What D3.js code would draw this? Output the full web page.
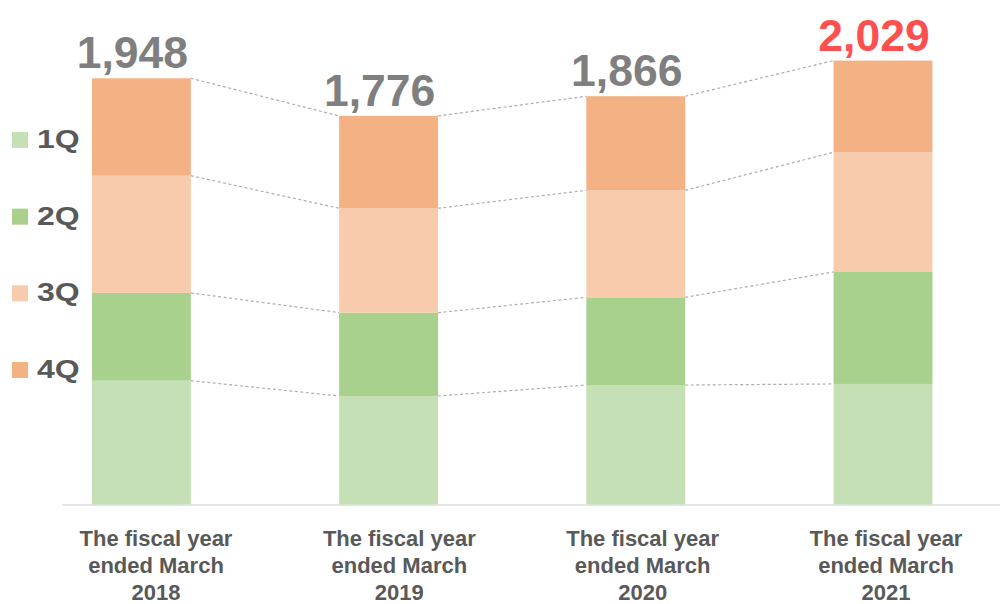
<!DOCTYPE html>
<html>
<head>
<meta charset="utf-8">
<script src="https://cdn.jsdelivr.net/npm/d3@7"></script>
<style>
  html, body { margin: 0; padding: 0; background: #ffffff; }
  svg { display: block; font-family: "Liberation Sans", Arial, sans-serif; }
</style>
</head>
<body>
<svg id="chart" width="1000" height="604"></svg>
<script>
// Fiscal years (ended March) and quarterly amounts stacked per year
const years = ["2018", "2019", "2020", "2021"];
const quarters = ["1Q", "2Q", "3Q", "4Q"];
const q1 = [566, 496, 546, 551];
const q2 = [401, 381, 401, 512];
const q3 = [536, 477, 489, 547];
const q4 = [445, 422, 430, 419];
const totals = [1948, 1776, 1866, 2029];
const totalLabels = ["1,948", "1,776", "1,866", "2,029"];
const quarterColors = ["#c5e0b4", "#a9d18e", "#f8cbad", "#f4b183"];

const svg = d3.select("#chart");

const rows = years.map((y, i) => ({ year: y, "1Q": q1[i], "2Q": q2[i], "3Q": q3[i], "4Q": q4[i] }));
const stack = d3.stack().keys(quarters)(rows);

const x = d3.scaleBand()
  .domain(years)
  .range([17.8, 1006.6])
  .paddingInner(0.6)
  .paddingOuter(0.3);

const y = d3.scaleLinear()
  .domain([0, 2200])
  .range([504.5, 23.16]);

// baseline
svg.append("line")
  .attr("x1", 62).attr("x2", 1000)
  .attr("y1", y(0) + 0.5).attr("y2", y(0) + 0.5)
  .attr("stroke", "#dedede")
  .attr("stroke-width", 1.5);

// stacked bars
svg.append("g")
  .selectAll("g")
  .data(stack)
  .join("g")
  .attr("fill", (d, i) => quarterColors[i])
  .selectAll("rect")
  .data(d => d)
  .join("rect")
  .attr("x", d => x(d.data.year))
  .attr("width", x.bandwidth())
  .attr("y", d => y(d[1]))
  .attr("height", d => y(d[0]) - y(d[1]));

// dashed connectors between matching segment tops of neighbouring bars
const connectors = svg.append("g")
  .attr("stroke", "#aeaeae")
  .attr("stroke-width", 1.2)
  .attr("stroke-dasharray", "3,2.5")
  .attr("fill", "none");

stack.forEach(layer => {
  for (let i = 0; i < layer.length - 1; i++) {
    connectors.append("line")
      .attr("x1", x(years[i]) + x.bandwidth())
      .attr("y1", y(layer[i][1]))
      .attr("x2", x(years[i + 1]))
      .attr("y2", y(layer[i + 1][1]));
  }
});

// totals above each bar
svg.append("g")
  .selectAll("text")
  .data(years)
  .join("text")
  .attr("x", d => x(d) + x.bandwidth() / 2 - 9)
  .attr("y", (d, i) => y(totals[i]) - 10)
  .attr("text-anchor", "middle")
  .attr("font-size", 44.5)
  .attr("font-weight", "bold")
  .attr("fill", (d, i) => i === years.length - 1 ? "#ff5050" : "#7f7f7f")
  .text((d, i) => totalLabels[i]);

// category labels
const labelX = d3.scalePoint().domain(years).range([156, 886]);
const catLabels = svg.append("g")
  .attr("font-size", 22)
  .attr("font-weight", "bold")
  .attr("fill", "#595959")
  .attr("text-anchor", "middle");

years.forEach(yr => {
  const t = catLabels.append("text").attr("x", labelX(yr)).attr("y", 546);
  ["The fiscal year", "ended March", yr].forEach((line, j) => {
    t.append("tspan")
      .attr("x", labelX(yr))
      .attr("y", 546 + j * 26.8)
      .text(line);
  });
});

// legend
const legendY = d3.scalePoint().domain(quarters).range([140, 370]);
const legend = svg.append("g");
quarters.forEach((q, i) => {
  const cy = legendY(q);
  legend.append("rect")
    .attr("x", 12).attr("y", cy - 8)
    .attr("width", 16).attr("height", 16)
    .attr("fill", quarterColors[i]);
  legend.append("text")
    .attr("transform", `translate(37,${cy + 8}) scale(1.28,1)`)
    .attr("font-size", 25)
    .attr("font-weight", "bold")
    .attr("fill", "#595959")
    .text(q);
});
</script>
</body>
</html>
